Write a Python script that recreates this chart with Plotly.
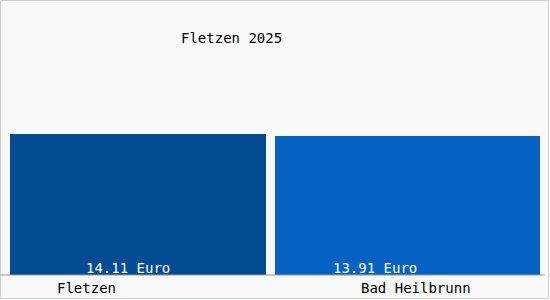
import plotly.graph_objects as go

categories = ["Fletzen", "Bad Heilbrunn"]
values = [14.11, 13.91]
value_labels = ["14.11 Euro", "13.91 Euro"]
title_text = "Fletzen 2025"

colors = ["#034b93", "#0562c3"]
widths = [0.95, 0.983]
FONT = "DejaVu Sans Mono"

W, H = 550, 300
ml, mr, mt, mb = 0, 5, 25, 25
pw, ph = W - ml - mr, H - mt - mb

def px_x(p):
    return (p - ml) / pw

def px_y(p):
    return (H - mb - p) / ph

fig = go.Figure()
fig.add_trace(go.Bar(
    x=categories, y=values, width=widths,
    marker=dict(color=colors, line=dict(width=0)),
    hoverinfo="skip",
))

label_xshift = [-10.5, -33]
cat_xshift = [-52, 8.5]
annotations = []
for i, c in enumerate(categories):
    annotations.append(dict(x=c, y=0, xref="x", yref="y", text=value_labels[i],
                            showarrow=False, yanchor="middle", xanchor="center",
                            yshift=7.5, xshift=label_xshift[i],
                            font=dict(family=FONT, size=14, color="white")))
    annotations.append(dict(x=c, y=0, xref="x", yref="y", text=c,
                            showarrow=False, yanchor="middle", xanchor="center",
                            yshift=-13, xshift=cat_xshift[i],
                            font=dict(family=FONT, size=14, color="black")))
annotations.append(dict(x=px_x(231.5), y=px_y(38), xref="paper", yref="paper",
                        text=title_text, showarrow=False, xanchor="center", yanchor="middle",
                        font=dict(family=FONT, size=14, color="black")))

fig.update_layout(
    width=W, height=H,
    margin=dict(l=ml, r=mr, t=mt, b=mb, pad=0),
    paper_bgcolor="white",
    plot_bgcolor="rgba(0,0,0,0)",
    showlegend=False,
    bargap=0,
    xaxis=dict(type="category", range=[-0.512, 1.510], showticklabels=False,
               showgrid=False, zeroline=False, showline=False, ticks="", fixedrange=True),
    yaxis=dict(range=[0, ph / 10], showticklabels=False, showgrid=False,
               zeroline=False, showline=False, ticks="", fixedrange=True),
    annotations=annotations,
    shapes=[
        dict(type="rect", xref="paper", yref="paper",
             x0=px_x(0.5), x1=px_x(548.5), y0=px_y(298.5), y1=px_y(0.5),
             line=dict(color="#cfcfcf", width=1), fillcolor="#f9f9f9", layer="below"),
        dict(type="line", xref="paper", yref="paper",
             x0=px_x(0), x1=px_x(545), y0=px_y(275), y1=px_y(275),
             line=dict(color="#999999", width=1), layer="above"),
    ],
)

fig.write_html("out.html")
